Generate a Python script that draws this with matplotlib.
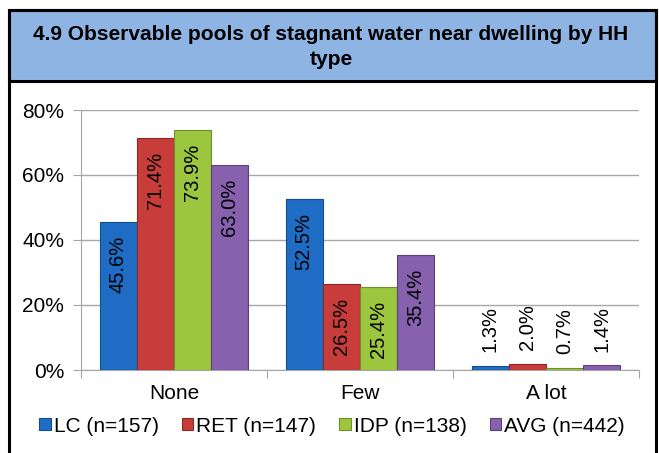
import numpy as np
import matplotlib.pyplot as plt
from matplotlib.patches import Rectangle

# DATA
categories = ['None', 'Few', 'A lot']
series_names = ['LC (n=157)', 'RET (n=147)', 'IDP (n=138)', 'AVG (n=442)']
values = {
    'LC (n=157)': [45.6, 52.5, 1.3],
    'RET (n=147)': [71.4, 26.5, 2.0],
    'IDP (n=138)': [73.9, 25.4, 0.7],
    'AVG (n=442)': [63.0, 35.4, 1.4],
}
colors = ['#1E6CC4', '#C83C3A', '#9DC63F', '#8760AE']
edges = ['#154E8E', '#8E2826', '#6E8F2A', '#5D417A']
title = '4.9 Observable pools of stagnant water near dwelling by HH\ntype'

plt.rcParams['font.family'] = ['Liberation Sans', 'DejaVu Sans']

fig = plt.figure(figsize=(6.59, 4.53), dpi=100)
W, H = 659, 453

# title box and frame
fig.patches.append(Rectangle((8.5 / W, 1 - 81 / H), 647 / W, 70.5 / H,
                             transform=fig.transFigure, facecolor='#8DB4E2',
                             edgecolor='black', linewidth=2.2, zorder=0))
fig.patches.append(Rectangle((8.5 / W, -0.05), 647 / W, 1.05 - 10.5 / H,
                             transform=fig.transFigure, facecolor='none',
                             edgecolor='black', linewidth=2.2, zorder=5))
fig.text(331 / W, 1 - 47 / H, title, ha='center', va='center',
         fontsize=15, fontweight='bold', linespacing=1.45)

ax = fig.add_axes([81 / W, 1 - 370 / H, 558 / W, 260 / H])
x = np.arange(len(categories))
width = 0.2
for i, name in enumerate(series_names):
    vals = np.array(values[name]) / 100
    pos = x + (i - 1.5) * width
    ax.bar(pos, vals, width, color=colors[i], edgecolor=edges[i],
           linewidth=0.8, label=name, zorder=3)
    for px, v in zip(pos, vals):
        lab = f'{v * 100:.1f}%'
        if v > 0.1:
            ax.annotate(lab, (px, v), xytext=(0, -10), textcoords='offset points',
                        rotation=90, ha='center', va='top', fontsize=14.5, zorder=4)
        else:
            ax.annotate(lab, (px, v), xytext=(0, 10), textcoords='offset points',
                        rotation=90, ha='center', va='bottom', fontsize=14.5, zorder=4)

ax.set_xlim(-0.5, len(categories) - 0.5)
ax.set_ylim(0, 0.8)
ax.set_yticks([0, 0.2, 0.4, 0.6, 0.8])
ax.set_yticklabels(['0%', '20%', '40%', '60%', '80%'], fontsize=15)
ax.yaxis.grid(True, color='#A6A6A6', linewidth=1.0, zorder=0)
ax.set_axisbelow(True)
ax.set_xticks([-0.5, 0.5, 1.5, 2.5])
ax.set_xticklabels([])
ax.set_xticks(x, minor=True)
ax.set_xticklabels(categories, minor=True, fontsize=15)
ax.tick_params(axis='x', which='minor', length=0, pad=10)
ax.tick_params(axis='x', which='major', length=6, color='#A6A6A6')
ax.tick_params(axis='y', length=6, color='#A6A6A6', pad=6)
for s in ['top', 'right']:
    ax.spines[s].set_visible(False)
ax.spines['left'].set_color('#A6A6A6')
ax.spines['bottom'].set_color('#A6A6A6')

fig.legend(loc='center', bbox_to_anchor=(332 / W, 1 - 426 / H), ncol=4,
           frameon=False, fontsize=15, handlelength=0.55, handleheight=0.55,
           handletextpad=0.15, columnspacing=1.1, borderaxespad=0)

fig.savefig('out.png', dpi=100)
